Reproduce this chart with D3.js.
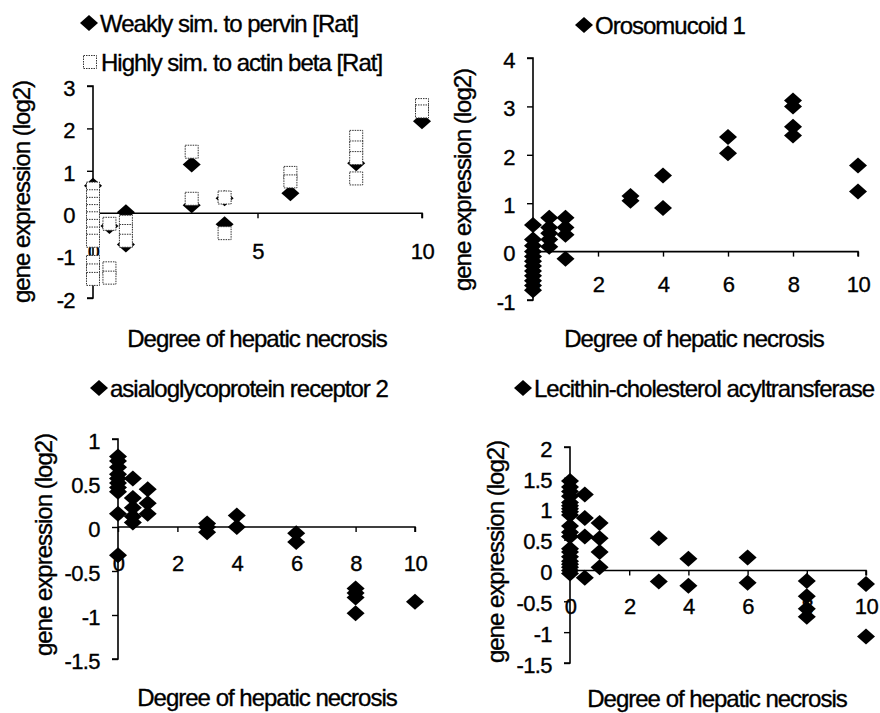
<!DOCTYPE html>
<html>
<head>
<meta charset="utf-8">
<script src="https://cdn.jsdelivr.net/npm/d3@7"></script>
<style>
  html, body { margin: 0; padding: 0; background: #fff; }
  svg text { font-family: "Liberation Sans", Arial, Helvetica, sans-serif; fill: #000; stroke: #000; stroke-width: 0.35px; }
</style>
</head>
<body>
<svg id="chart" width="880" height="713"></svg>
<script>
// ---- data: degree of hepatic necrosis (x) and log2 gene expression (y) ----
const pervinDeg = [0, 0.5, 1, 1, 3, 3, 4, 4, 6, 8, 10];
const pervinVal = [0.65, -0.3, 0.02, -0.74, 1.15, 0.19, 0.35, -0.26, 0.47, 1.18, 2.17];

const actinDeg = [0, 0, 0, 0, 0, 0, 0, 0, 0, 0, 0,
                  0.5, 0.5, 0.5, 1, 1, 1, 3, 3, 4, 4, 6, 6, 8, 8, 8, 8, 10, 10];
const actinVal = [0.58, 0.4, 0.22, 0.05, -0.12, -0.3, -0.48, -0.65, -1.15, -1.35, -1.55,
                  -0.25, -1.3, -1.52, -0.2, -0.42, -0.65, 1.45, 0.34, 0.37, -0.47,
                  0.95, 0.75, 1.8, 1.55, 1.3, 0.82, 2.55, 2.4];

const orosoDeg = [0, 0, 0, 0, 0, 0, 0, 0, 0, 0, 0, 0,
                  0.5, 0.5, 0.5, 0.5, 0.5, 1, 1, 1, 1, 3, 3, 4, 4, 6, 6, 8, 8, 8, 8, 10, 10];
const orosoVal = [0.55, 0.25, 0.12, 0, -0.1, -0.2, -0.3, -0.4, -0.5, -0.6, -0.7, -0.8,
                  0.7, 0.5, 0.38, 0.25, 0.1, 0.7, 0.5, 0.35, -0.15,
                  1.15, 1.05, 1.57, 0.9, 2.37, 2.03, 3.12, 3.0, 2.58, 2.4, 1.78, 1.24];

const asgrDeg = [0, 0, 0, 0, 0, 0, 0, 0, 0, 0,
                 0.5, 0.5, 0.5, 0.5, 0.5, 1, 1, 1, 3, 3, 3, 4, 4, 6, 6, 8, 8, 8, 8, 10];
const asgrVal = [0.8, 0.75, 0.68, 0.6, 0.55, 0.5, 0.45, 0.4, 0.15, -0.32,
                 0.55, 0.33, 0.22, 0.12, 0.05, 0.43, 0.27, 0.15,
                 0.04, 0, -0.06, 0.13, 0, -0.07, -0.17, -0.7, -0.75, -0.8, -0.98, -0.85];

const lcatDeg = [0, 0, 0, 0, 0, 0, 0, 0, 0, 0, 0, 0, 0, 0, 0, 0, 0, 0, 0, 0,
                 0.5, 0.5, 0.5, 0.5, 1, 1, 1, 1, 3, 3, 4, 4, 6, 6, 8, 8, 8, 8, 10, 10];
const lcatVal = [1.45, 1.35, 1.28, 1.2, 1.1, 1.05, 1.0, 0.95, 0.9, 0.72, 0.62, 0.55,
                 0.35, 0.3, 0.22, 0.15, 0.1, 0.05, 0, -0.05,
                 1.23, 0.85, 0.55, -0.12, 0.77, 0.52, 0.3, 0.05,
                 0.52, -0.18, 0.19, -0.25, 0.21, -0.2, -0.17, -0.42, -0.62, -0.75, -0.22, -1.07];

// ---- tick labels ----
const xTicksCoarse = [0, 5, 10];
const xTicksFine = [0, 2, 4, 6, 8, 10];
const yTicksPervin = [3, 2, 1, 0, -1, -2];
const yTicksOroso = [4, 3, 2, 1, 0, -1];
const yTicksAsgr = [1, 0.5, 0, -0.5, -1, -1.5];
const yTicksLcat = [2, 1.5, 1, 0.5, 0, -0.5, -1, -1.5];

const xTitle = "Degree of hepatic necrosis";
const yTitle = "gene expression (log2)";

const TEXT_SIZE = 24;
const TEXT_SPACING = -1;
const TICK_SIZE = 22;
const TICK_SPACING = -0.6;

// Rotated-square marker (area = size), a little wider than tall
const diamondShape = {
  draw(ctx, size) {
    const r = Math.sqrt(size / 2);
    ctx.moveTo(0, -r * 0.94);
    ctx.lineTo(r * 1.06, 0);
    ctx.lineTo(0, r * 0.94);
    ctx.lineTo(-r * 1.06, 0);
    ctx.closePath();
  }
};
const diamondPath = d3.symbol().type(diamondShape).size(145)();
const squarePath = d3.symbol().type(d3.symbolSquare).size(169)();

const markerStyles = {
  diamond: { d: diamondPath, fill: "#000", stroke: "none", dash: null },
  square: { d: squarePath, fill: "#fff", stroke: "#333", dash: "1.5,1" }
};

const svg = d3.select("#chart");

function fmt(v) { return String(v); }

function drawPanel(p) {
  const g = svg.append("g");
  const x = d3.scaleLinear().domain([0, 10]).range([p.x0, p.x1]);
  const y = d3.scaleLinear().domain(p.yDomain).range([p.yBottom, p.yTop]);

  // y axis
  const ya = g.append("g")
    .attr("transform", `translate(${p.x0},0)`)
    .call(d3.axisLeft(y).tickValues(p.yTicks).tickSize(6).tickPadding(12).tickFormat(fmt));
  ya.select(".domain").attr("stroke", "#000").attr("stroke-width", 1.6)
    .attr("d", `M-6,${y(p.yDomain[1])}H0V${y(p.yDomain[0])}H-6`);
  ya.selectAll(".tick line").attr("stroke", "#000").attr("stroke-width", 1.4);
  ya.selectAll(".tick text").attr("font-size", TICK_SIZE)
    .attr("letter-spacing", TICK_SPACING).attr("dy", "0.42em");

  // x axis along y = 0
  const xa = g.append("g")
    .attr("transform", `translate(0,${y(0)})`)
    .call(d3.axisBottom(x).tickValues(p.xTicks).tickSize(5).tickPadding(p.xLabelPad).tickFormat(fmt));
  xa.select(".domain").attr("stroke", "#000").attr("stroke-width", 1.6)
    .attr("d", `M${p.x0},0H${p.x1}V5`);
  xa.selectAll(".tick line").attr("stroke", "#000").attr("stroke-width", 1.4);
  xa.selectAll(".tick text").attr("font-size", TICK_SIZE).attr("letter-spacing", TICK_SPACING);

  // titles
  g.append("text")
    .attr("x", p.xTitleX).attr("y", p.xTitleY)
    .attr("text-anchor", "middle")
    .attr("font-size", TEXT_SIZE).attr("letter-spacing", TEXT_SPACING).text(xTitle);
  g.append("text")
    .attr("transform", `translate(${p.yTitleX},${p.yTitleY}) rotate(-90)`)
    .attr("text-anchor", "middle").attr("dominant-baseline", "central")
    .attr("font-size", TEXT_SIZE).attr("letter-spacing", TEXT_SPACING).text(yTitle);

  // series
  p.series.forEach(s => {
    const st = markerStyles[s.marker];
    const pts = s.deg.map((d, i) => ({ d, v: s.val[i] }));
    g.append("g").selectAll("path").data(pts).join("path")
      .attr("transform", q => `translate(${x(q.d)},${y(q.v)})`)
      .attr("d", st.d)
      .attr("fill", st.fill)
      .attr("stroke", st.stroke)
      .attr("stroke-width", 1)
      .attr("stroke-dasharray", st.dash);

    // legend entry
    const lg = g.append("g").attr("transform", `translate(${s.legendX},${s.legendY})`);
    lg.append("path").attr("d", st.d).attr("fill", st.fill)
      .attr("stroke", st.stroke).attr("stroke-width", 1).attr("stroke-dasharray", st.dash);
    lg.append("text").attr("x", 11).attr("y", 0).attr("dominant-baseline", "central")
      .attr("font-size", TEXT_SIZE).attr("letter-spacing", TEXT_SPACING).text(s.name);
  });
}

const panels = [
  {
    x0: 93, x1: 422, yTop: 86, yBottom: 298, yDomain: [-2, 3],
    xTicks: xTicksCoarse, yTicks: yTicksPervin, xLabelPad: 25,
    xTitleX: 257, xTitleY: 347, yTitleX: 21, yTitleY: 192,
    series: [
      { name: "Weakly sim. to pervin [Rat]", marker: "diamond", deg: pervinDeg, val: pervinVal, legendX: 89, legendY: 23 },
      { name: "Highly sim. to actin beta [Rat]", marker: "square", deg: actinDeg, val: actinVal, legendX: 90, legendY: 62 }
    ]
  },
  {
    x0: 533, x1: 858, yTop: 58, yBottom: 300, yDomain: [-1, 4],
    xTicks: xTicksFine, yTicks: yTicksOroso, xLabelPad: 20,
    xTitleX: 694, xTitleY: 347, yTitleX: 462, yTitleY: 180,
    series: [
      { name: "Orosomucoid 1", marker: "diamond", deg: orosoDeg, val: orosoVal, legendX: 584, legendY: 25 }
    ]
  },
  {
    x0: 118, x1: 415, yTop: 439, yBottom: 659, yDomain: [-1.5, 1],
    xTicks: xTicksFine, yTicks: yTicksAsgr, xLabelPad: 23,
    xTitleX: 267, xTitleY: 706, yTitleX: 43, yTitleY: 545,
    series: [
      { name: "asialoglycoprotein receptor 2", marker: "diamond", deg: asgrDeg, val: asgrVal, legendX: 99, legendY: 388 }
    ]
  },
  {
    x0: 570, x1: 866, yTop: 447, yBottom: 663, yDomain: [-1.5, 2],
    xTicks: xTicksFine, yTicks: yTicksLcat, xLabelPad: 23,
    xTitleX: 717, xTitleY: 707, yTitleX: 495, yTitleY: 552,
    series: [
      { name: "Lecithin-cholesterol acyltransferase", marker: "diamond", deg: lcatDeg, val: lcatVal, legendX: 523, legendY: 388 }
    ]
  }
];

panels.forEach(drawPanel);
</script>
</body>
</html>
